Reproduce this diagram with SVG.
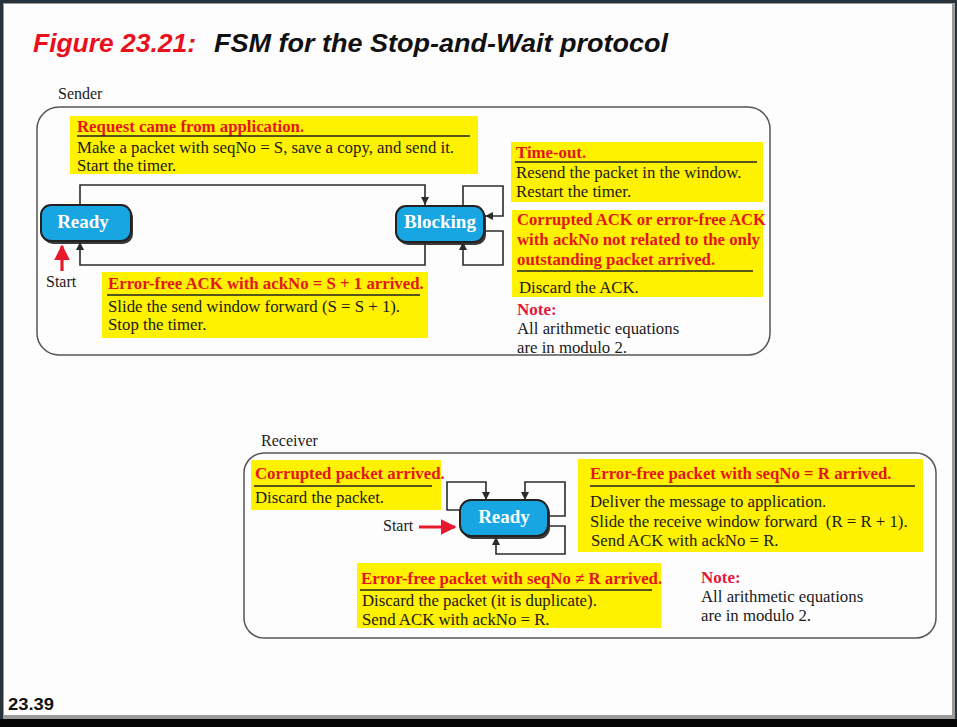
<svg xmlns="http://www.w3.org/2000/svg" width="957" height="727" viewBox="0 0 957 727">
<style>
.body{font-family:"Liberation Serif","Times New Roman",serif;font-size:16.8px;fill:#1a1a1a}
.hdr{font-family:"Liberation Serif","Times New Roman",serif;font-size:16.8px;font-weight:bold;fill:#e3161f}
.note{font-family:"Liberation Serif","Times New Roman",serif;font-size:17px;font-weight:bold;fill:#e3163c}
.lbl{font-family:"Liberation Serif","Times New Roman",serif;font-size:16px;fill:#1a1a1a}
.yel{fill:#fff200}
.rule{stroke:#222;stroke-width:1.3}
.panel{fill:none;stroke:#555;stroke-width:1.5}
.node rect.b{fill:#17a6e2;stroke:#222;stroke-width:2}
.node rect.s{fill:#3a3a3a}
.node text{font-family:"Liberation Serif","Times New Roman",serif;font-size:19px;font-weight:bold;fill:#fff;text-anchor:middle}
.con{fill:none;stroke:#2b2b2b;stroke-width:1.6}
.start{fill:none;stroke:#e8192c;stroke-width:3.2}
</style>
<defs>
<marker id="ah" viewBox="0 0 10 10" refX="10" refY="5" markerWidth="8" markerHeight="8" markerUnits="userSpaceOnUse" orient="auto"><path d="M0,0 L10,5 L0,10 z" fill="#2b2b2b"/></marker>
<marker id="rh" viewBox="0 0 10 10" refX="9" refY="5" markerWidth="5" markerHeight="5" orient="auto"><path d="M0,0 L10,5 L0,10 z" fill="#e8192c"/></marker>
</defs>
<!-- frame -->
<rect x="0" y="0" width="957" height="727" fill="#26323c"/>
<rect x="3" y="3" width="952" height="716" fill="#9a9a9a"/>
<rect x="4" y="4" width="948" height="711" fill="#fefdfe"/>
<rect x="0" y="719" width="957" height="8" fill="#050505"/>

<text x="33" y="52" font-family="'Liberation Sans',Arial,sans-serif" font-size="25" font-weight="bold" font-style="italic" fill="#e8101c" textLength="163" lengthAdjust="spacingAndGlyphs">Figure 23.21:</text>
<text x="214" y="52" font-family="'Liberation Sans',Arial,sans-serif" font-size="25" font-weight="bold" font-style="italic" fill="#111" textLength="454" lengthAdjust="spacingAndGlyphs">FSM for the Stop-and-Wait protocol</text>

<!-- Sender panel -->
<text class="lbl" x="58" y="99">Sender</text>
<rect class="panel" x="37" y="107" width="733" height="248" rx="22"/>

<g id="s-note1">
<rect class="yel" x="70" y="116" width="408" height="58"/>
<text class="hdr" x="77" y="132">Request came from application.</text>
<line class="rule" x1="77" y1="136" x2="470" y2="136"/>
<text class="body" x="77" y="153">Make a packet with seqNo = S, save a copy, and send it.</text>
<text class="body" x="77" y="171">Start the timer.</text>
</g>
<g id="s-note2">
<rect class="yel" x="102" y="272" width="326" height="66"/>
<text class="hdr" x="108" y="289">Error-free ACK with ackNo = S + 1 arrived.</text>
<line class="rule" x1="107" y1="295" x2="420" y2="295"/>
<text class="body" x="108" y="312">Slide the send window forward (S = S + 1).</text>
<text class="body" x="108" y="330">Stop the timer.</text>
</g>
<g id="s-note3">
<rect class="yel" x="511" y="142" width="252" height="60"/>
<text class="hdr" x="516" y="158">Time-out.</text>
<line class="rule" x1="515" y1="162" x2="757" y2="162"/>
<text class="body" x="516" y="178">Resend the packet in the window.</text>
<text class="body" x="516" y="197">Restart the timer.</text>
</g>
<g id="s-note4">
<rect class="yel" x="512" y="210" width="251" height="87"/>
<text class="hdr" x="517" y="225" textLength="249" lengthAdjust="spacingAndGlyphs">Corrupted ACK or error-free ACK</text>
<text class="hdr" x="517" y="245">with ackNo not related to the only</text>
<text class="hdr" x="517" y="265">outstanding packet arrived.</text>
<line class="rule" x1="517" y1="271" x2="753" y2="271"/>
<text class="body" x="519" y="293">Discard the ACK.</text>
</g>
<g id="s-note5">
<text class="note" x="517" y="315">Note:</text>
<text class="body" x="517" y="334">All arithmetic equations</text>
<text class="body" x="517" y="353">are in modulo 2.</text>
</g>

<g id="s-ready" class="node">
<rect class="s" x="43" y="207" width="90" height="37" rx="10"/>
<rect class="b" x="41" y="205" width="90" height="36" rx="10"/>
<text x="83" y="228">Ready</text>
</g>
<g id="s-blocking" class="node">
<rect class="s" x="398" y="208" width="88" height="37" rx="10"/>
<rect class="b" x="396" y="206" width="88" height="36" rx="10"/>
<text x="440" y="228">Blocking</text>
</g>

<g id="s-connectors">
<path class="con" d="M80,205 V185 H425 V205" marker-end="url(#ah)"/>
<path class="con" d="M425,242 V265 H80 V242" marker-end="url(#ah)"/>
<path class="con" d="M463,206 V186 H503 V216 H485" marker-end="url(#ah)"/>
<path class="con" d="M484,231 H503 V265 H463 V242" marker-end="url(#ah)"/>
<path class="start" d="M62,271 V246" marker-end="url(#rh)"/>
</g>
<text class="lbl" x="46" y="287">Start</text>

<!-- Receiver panel -->
<text class="lbl" x="261" y="446">Receiver</text>
<rect class="panel" x="244" y="453" width="692" height="185" rx="20"/>

<g id="r-note1">
<rect class="yel" x="251" y="460" width="190" height="50"/>
<text class="hdr" x="255" y="479">Corrupted packet arrived.</text>
<line class="rule" x1="254" y1="486" x2="432" y2="486"/>
<text class="body" x="255" y="503">Discard the packet.</text>
</g>
<g id="r-note2">
<rect class="yel" x="578" y="459" width="345" height="93"/>
<text class="hdr" x="590" y="479">Error-free packet with seqNo = R arrived.</text>
<line class="rule" x1="590" y1="486" x2="915" y2="486"/>
<text class="body" x="590" y="507">Deliver the message to application.</text>
<text class="body" x="590" y="527" xml:space="preserve">Slide the receive window forward  (R = R + 1).</text>
<text class="body" x="591" y="546">Send ACK with ackNo = R.</text>
</g>
<g id="r-note3">
<rect class="yel" x="357" y="563" width="304" height="65"/>
<text class="hdr" x="361" y="584">Error-free packet with seqNo ≠ R arrived.</text>
<line class="rule" x1="360" y1="590" x2="652" y2="590"/>
<text class="body" x="362" y="606">Discard the packet (it is duplicate).</text>
<text class="body" x="362" y="625">Send ACK with ackNo = R.</text>
</g>
<g id="r-note4">
<text class="note" x="701" y="583">Note:</text>
<text class="body" x="701" y="602">All arithmetic equations</text>
<text class="body" x="701" y="621">are in modulo 2.</text>
</g>

<g id="r-ready" class="node">
<rect class="s" x="462" y="502" width="88" height="37" rx="11"/>
<rect class="b" x="460" y="500" width="88" height="36" rx="11"/>
<text x="504" y="523">Ready</text>
</g>

<g id="r-connectors">
<path class="con" d="M460,510 H447 V482 H486 V500" marker-end="url(#ah)"/>
<path class="con" d="M548,516 H565 V482 H525 V500" marker-end="url(#ah)"/>
<path class="con" d="M547,526 H565 V554 H496 V537" marker-end="url(#ah)"/>
<path class="start" d="M419,527 H455" marker-end="url(#rh)"/>
</g>
<text class="lbl" x="383" y="531">Start</text>

<text x="8" y="710" font-family="'Liberation Sans',Arial,sans-serif" font-size="16" font-weight="bold" fill="#111" textLength="46" lengthAdjust="spacingAndGlyphs">23.39</text>
</svg>
